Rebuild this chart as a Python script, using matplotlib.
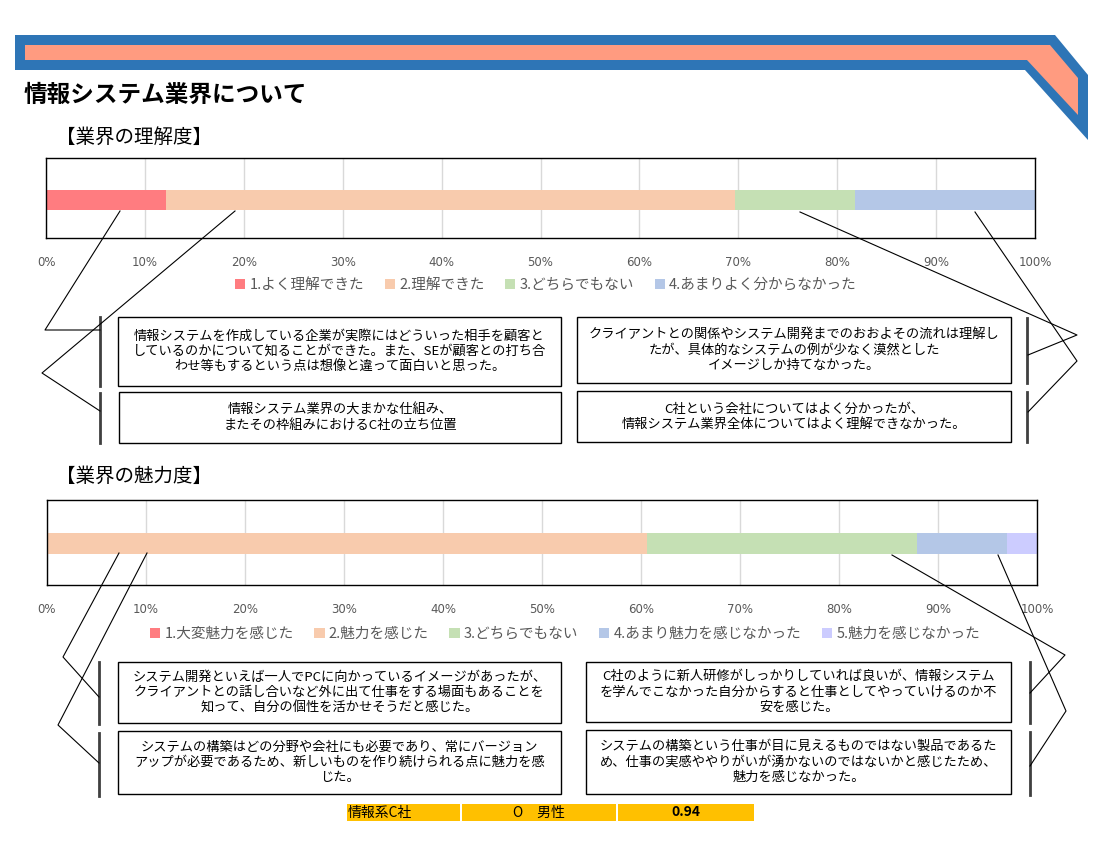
import matplotlib
matplotlib.use("Agg")
import matplotlib.pyplot as plt
from matplotlib.patches import Polygon, Rectangle, Patch

plt.rcParams["font.family"] = ["Noto Sans CJK JP", "DejaVu Sans"]

# chart data (percent of respondents)
understand_labels = ["1.よく理解できた", "2.理解できた", "3.どちらでもない", "4.あまりよく分からなかった"]
understand_vals = [12.1, 57.6, 12.1, 18.2]
understand_colors = ["#FF7C80", "#F8CBAD", "#C5E0B4", "#B4C7E7"]

appeal_labels = ["1.大変魅力を感じた", "2.魅力を感じた", "3.どちらでもない",
                 "4.あまり魅力を感じなかった", "5.魅力を感じなかった"]
appeal_vals = [0.0, 60.6, 27.3, 9.1, 3.0]
appeal_colors = ["#FF7C80", "#F8CBAD", "#C5E0B4", "#B4C7E7", "#CCCCFF"]

tick_vals = list(range(0, 101, 10))
tick_labels = [f"{v}%" for v in tick_vals]

understand_comments = [
    "情報システムを作成している企業が実際にはどういった相手を顧客と\nしているのかについて知ることができた。また、SEが顧客との打ち合\nわせ等もするという点は想像と違って面白いと思った。",
    "情報システム業界の大まかな仕組み、\nまたその枠組みにおけるC社の立ち位置",
    "クライアントとの関係やシステム開発までのおおよその流れは理解し\nたが、具体的なシステムの例が少なく漠然とした\nイメージしか持てなかった。",
    "C社という会社についてはよく分かったが、\n情報システム業界全体についてはよく理解できなかった。",
]
appeal_comments = [
    "システム開発といえば一人でPCに向かっているイメージがあったが、\nクライアントとの話し合いなど外に出て仕事をする場面もあることを\n知って、自分の個性を活かせそうだと感じた。",
    "システムの構築はどの分野や会社にも必要であり、常にバージョン\nアップが必要であるため、新しいものを作り続けられる点に魅力を感\nじた。",
    "C社のように新人研修がしっかりしていれば良いが、情報システム\nを学んでこなかった自分からすると仕事としてやっていけるのか不\n安を感じた。",
    "システムの構築という仕事が目に見えるものではない製品であるた\nめ、仕事の実感ややりがいが湧かないのではないかと感じたため、\n魅力を感じなかった。",
]
footer_cells = ["情報系C社", "O　男性", "0.94"]

W, H = 1100, 850
fig = plt.figure(figsize=(11, 8.5), dpi=100)


def px_axes(x0, y0, x1, y1):
    return fig.add_axes([x0 / W, 1 - y1 / H, (x1 - x0) / W, (y1 - y0) / H])


def stacked_bar(ax, vals, colors, labels, bar_y, bar_h):
    left = 0
    handles = []
    for v, c, lab in zip(vals, colors, labels):
        ax.barh(bar_y, v, left=left, height=bar_h, color=c, zorder=2)
        left += v
        handles.append(Patch(facecolor=c, label=lab))
    ax.set_xlim(0, 100)
    ax.set_ylim(0, 1)
    ax.set_yticks([])
    ax.set_xticks(tick_vals)
    ax.set_xticklabels(tick_labels, fontsize=8.5, color="#595959", family=["DejaVu Sans"])
    ax.tick_params(axis="x", length=0, pad=13)
    ax.grid(axis="x", color="#D9D9D9", linewidth=1, zorder=0)
    for s in ax.spines.values():
        s.set_color("black")
        s.set_linewidth(1)
    return handles


ax1 = px_axes(46, 158, 1035, 238)
h1 = stacked_bar(ax1, understand_vals, understand_colors, understand_labels, 0.475, 0.25)
fig.legend(handles=h1, loc="center", bbox_to_anchor=(546 / W, 1 - 285 / H), ncol=4,
           frameon=False, fontsize=10.5, labelcolor="#595959", handlelength=0.7,
           handleheight=0.7, handletextpad=0.3, columnspacing=1.4)

ax2 = px_axes(47, 500, 1037, 585)
h2 = stacked_bar(ax2, appeal_vals, appeal_colors, appeal_labels, 0.49, 0.25)
fig.legend(handles=h2, loc="center", bbox_to_anchor=(565 / W, 1 - 634 / H), ncol=5,
           frameon=False, fontsize=10.5, labelcolor="#595959", handlelength=0.7,
           handleheight=0.7, handletextpad=0.3, columnspacing=1.4)

# overlay in pixel coordinates for banner, headings, callouts
ov = fig.add_axes([0, 0, 1, 1], zorder=5)
ov.patch.set_alpha(0)
ov.set_xlim(0, W)
ov.set_ylim(H, 0)
ov.axis("off")

ov.add_patch(Polygon([(15, 35), (1055, 35), (1088, 75), (1088, 140), (1025, 70), (15, 70)],
                     closed=True, color="#2E75B6", lw=0))
ov.add_patch(Polygon([(25, 45), (1050, 45), (1078, 78), (1078, 115), (1027, 60), (25, 60)],
                     closed=True, color="#FF9B80", lw=0))

ov.text(24, 95, "情報システム業界について", fontsize=17, fontweight="bold", va="center")
ov.text(56, 137, "【業界の理解度】", fontsize=14, va="center")
ov.text(56, 476, "【業界の魅力度】", fontsize=14, va="center")


def comment_box(x0, y0, x1, y1, txt):
    ov.add_patch(Rectangle((x0, y0), x1 - x0, y1 - y0, fill=False, ec="black", lw=1))
    ov.text((x0 + x1) / 2, (y0 + y1) / 2, txt, ha="center", va="center",
            fontsize=9.5, linespacing=1.22)


def bracket(x, y0, y1):
    ov.plot([x, x], [y0, y1], color="#404040", lw=2)


def callout(pts):
    xs, ys = zip(*pts)
    ov.plot(xs, ys, color="black", lw=0.8)


# understanding section
comment_box(118, 317, 561, 386, understand_comments[0])
comment_box(119, 392, 561, 443, understand_comments[1])
comment_box(577, 317, 1011, 383, understand_comments[2])
comment_box(577, 391, 1011, 442, understand_comments[3])
bracket(100, 317, 386)
bracket(100, 393, 443)
bracket(1027, 318, 383)
bracket(1027, 392, 442)
callout([(120, 211), (45, 330), (100, 330)])
callout([(235, 211), (42, 373), (100, 411)])
callout([(800, 212), (1077, 335), (1028, 355)])
callout([(975, 212), (1077, 361), (1028, 412)])

# appeal section
comment_box(118, 662, 561, 723, appeal_comments[0])
comment_box(118, 731, 561, 794, appeal_comments[1])
comment_box(586, 662, 1011, 722, appeal_comments[2])
comment_box(586, 730, 1011, 794, appeal_comments[3])
bracket(99, 662, 724)
bracket(99, 733, 796)
bracket(1030, 662, 723)
bracket(1030, 732, 795)
callout([(119, 553), (63, 657), (99, 697)])
callout([(147, 553), (58, 725), (99, 763)])
callout([(892, 555), (1065, 655), (1030, 693)])
callout([(998, 555), (1066, 711), (1030, 766)])

# footer table
cells = [(347, 460, "left", "normal"), (462, 616, "center", "normal"), (618, 754, "center", "bold")]
for (x0, x1, ha, fw), txt in zip(cells, footer_cells):
    ov.add_patch(Rectangle((x0, 804), x1 - x0, 17, color="#FFC000", lw=0))
    tx = x0 + 1 if ha == "left" else (x0 + x1) / 2
    ov.text(tx, 812.5, txt, ha=ha, va="center", fontsize=10, fontweight=fw)

fig.savefig("out.png", dpi=100)
